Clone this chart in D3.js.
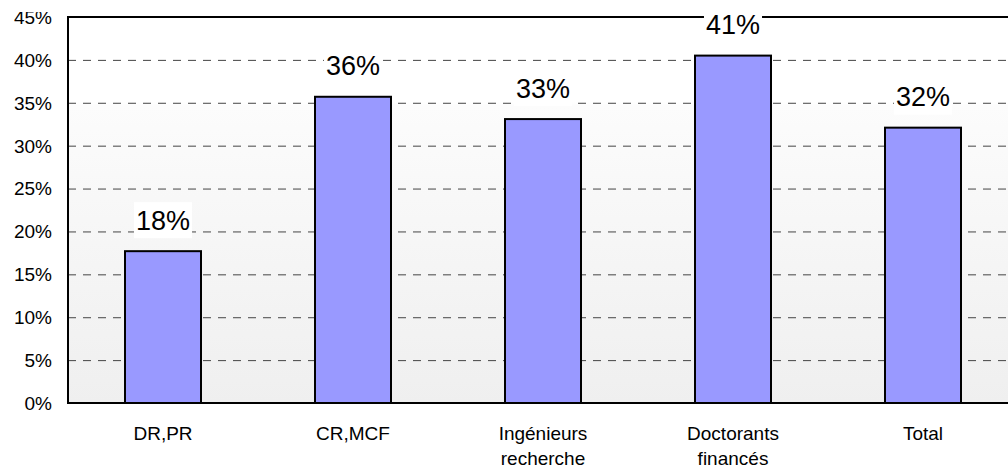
<!DOCTYPE html>
<html>
<head>
<meta charset="utf-8">
<script src="https://cdn.jsdelivr.net/npm/d3@7"></script>
<style>
  html, body { margin: 0; padding: 0; background: #fff; }
  svg { display: block; font-family: Arial, "Liberation Sans", sans-serif; }
</style>
</head>
<body>
<div id="chart"></div>
<script>
const categories = ["DR,PR", "CR,MCF", "Ingénieurs recherche", "Doctorants financés", "Total"];
const values = [17.7, 35.7, 33.1, 40.5, 32.1];
const valueLabels = ["18%", "36%", "33%", "41%", "32%"];
const yTicks = [0, 5, 10, 15, 20, 25, 30, 35, 40, 45];

const width = 1008, height = 469;
const margin = { top: 17, left: 68, bottom: 66 };
const plotRight = 1018;

const svg = d3.select("#chart").append("svg").attr("width", width).attr("height", height);

const defs = svg.append("defs");
const grad = defs.append("linearGradient").attr("id", "bg").attr("x1", 0).attr("y1", 0).attr("x2", 0).attr("y2", 1);
grad.append("stop").attr("offset", "0%").attr("stop-color", "#ffffff");
grad.append("stop").attr("offset", "22%").attr("stop-color", "#ffffff");
grad.append("stop").attr("offset", "23%").attr("stop-color", "#fcfcfc");
grad.append("stop").attr("offset", "100%").attr("stop-color", "#efefef");

// the top tick label is cut off in the source image
defs.append("clipPath").attr("id", "tickClip")
  .append("rect").attr("x", 0).attr("y", 12).attr("width", margin.left).attr("height", height);

const x = d3.scaleBand().domain(categories).range([margin.left, plotRight]).paddingInner(0.6).paddingOuter(0.3);
const y = d3.scaleLinear().domain([0, 45]).range([height - margin.bottom, margin.top]);

svg.append("rect")
  .attr("x", margin.left).attr("y", y(45))
  .attr("width", plotRight - margin.left).attr("height", y(0) - y(45))
  .attr("fill", "url(#bg)");

// dashed grid
svg.append("g")
  .selectAll("line")
  .data(yTicks.filter((t) => t > 0 && t < 45))
  .enter()
  .append("line")
  .attr("x1", margin.left).attr("x2", plotRight)
  .attr("y1", (d) => y(d) + 0.5).attr("y2", (d) => y(d) + 0.5)
  .attr("stroke", "#444")
  .attr("stroke-width", 1)
  .attr("stroke-dasharray", "8 7");

// bars
svg.append("g")
  .selectAll("rect")
  .data(categories)
  .enter()
  .append("rect")
  .attr("x", (d) => x(d))
  .attr("y", (d, i) => y(values[i]))
  .attr("width", x.bandwidth())
  .attr("height", (d, i) => y(0) - y(values[i]))
  .attr("fill", "#9999ff")
  .attr("stroke", "#000")
  .attr("stroke-width", 2);

// frame: top, left, bottom
svg.append("line").attr("x1", margin.left).attr("x2", plotRight).attr("y1", y(45)).attr("y2", y(45)).attr("stroke", "#000").attr("stroke-width", 2);
svg.append("line").attr("x1", margin.left).attr("x2", plotRight).attr("y1", y(0)).attr("y2", y(0)).attr("stroke", "#000").attr("stroke-width", 2);
svg.append("line").attr("x1", margin.left).attr("x2", margin.left).attr("y1", y(45) - 1).attr("y2", y(0) + 1).attr("stroke", "#000").attr("stroke-width", 2);

// y tick labels
svg.append("g")
  .attr("clip-path", "url(#tickClip)")
  .selectAll("text")
  .data(yTicks)
  .enter()
  .append("text")
  .attr("x", 52)
  .attr("y", (d) => y(d))
  .attr("dy", "0.36em")
  .attr("text-anchor", "end")
  .attr("font-size", 19)
  .attr("fill", "#000")
  .text((d) => d + "%");

// value labels with white boxes
const labels = svg.append("g");
categories.forEach((c, i) => {
  const cx = x(c) + x.bandwidth() / 2;
  const cy = y(values[i]) - 31;
  const g = labels.append("g");
  const t = g.append("text")
    .attr("x", cx).attr("y", cy).attr("dy", "0.36em")
    .attr("text-anchor", "middle")
    .attr("font-size", 27)
    .attr("fill", "#000")
    .text(valueLabels[i]);
  const bb = t.node().getBBox();
  g.insert("rect", "text")
    .attr("x", bb.x - 2).attr("y", cy - 18)
    .attr("width", bb.width + 4).attr("height", 36)
    .attr("fill", "#fff");
});

// category labels
const cat = svg.append("g");
categories.forEach((c) => {
  const cx = x(c) + x.bandwidth() / 2;
  const words = c.split(" ");
  words.forEach((w, k) => {
    cat.append("text")
      .attr("x", cx).attr("y", 433 + k * 25).attr("dy", "0.36em")
      .attr("text-anchor", "middle")
      .attr("font-size", 19)
      .attr("fill", "#000")
      .text(w);
  });
});
</script>
</body>
</html>
